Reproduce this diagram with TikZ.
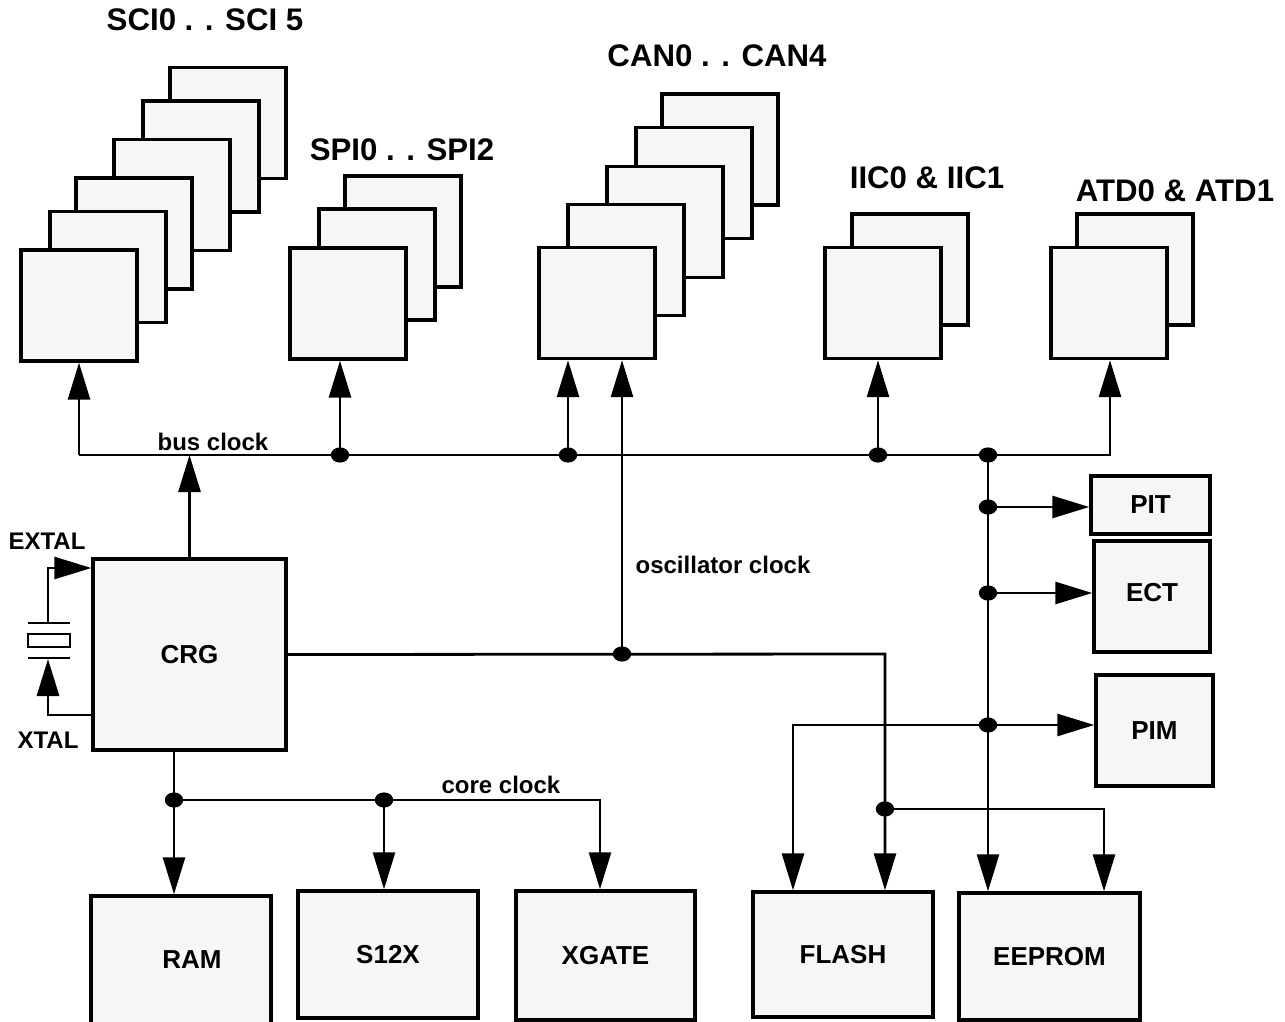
\documentclass[tikz,border=0pt]{standalone}
\usepackage{fontspec}
\setmainfont{Liberation Sans}
\usetikzlibrary{arrows.meta}

\definecolor{boxfill}{HTML}{F6F6F6}
\tikzset{
  box/.style={draw, fill=boxfill, line width=1.7pt, inner sep=0pt,
    font=\fontsize{13}{15}\selectfont\bfseries},
  unit/.style={box, minimum width=58pt, minimum height=55.5pt},
  clk/.style={line width=1.4pt, -{Triangle[length=18.5pt,width=11pt]}},
  wire/.style={line width=1.4pt},
  title/.style={font=\fontsize{15.6}{19}\selectfont\bfseries},
  lbl/.style={font=\fontsize{12}{14}\selectfont\bfseries},
}

\begin{document}
\begin{tikzpicture}[x=0.5pt, y=-0.5pt]
			\useasboundingbox (0,0) rectangle (1285,1022);
			
			% peripheral stacks
			\node[unit] (sci5) at (228,123) {};
			\node[unit] (sci4) at (201,156.5) {};
			\node[unit] (sci3) at (172,195) {};
			\node[unit] (sci2) at (134,233.5) {};
			\node[unit] (sci1) at (108,267) {};
			\node[unit] (sci0) at (79,305.5) {};
			
			\node[unit] (spi2) at (403,231.5) {};
			\node[unit] (spi1) at (377,264.5) {};
			\node[unit] (spi0) at (348,303.5) {};
			
			\node[unit] (can4) at (720,149.5) {};
			\node[unit] (can3) at (694,183) {};
			\node[unit] (can2) at (665,222) {};
			\node[unit] (can1) at (626,260) {};
			\node[unit] (can0) at (597,303) {};
			
			\node[unit] (iic1) at (910,269.5) {};
			\node[unit] (iic0) at (883,303) {};
			
			\node[unit] (atd1) at (1135,269.5) {};
			\node[unit] (atd0) at (1109,303) {};
			
			\node[title] (tsci) at (205,20) {SCI0 . . SCI 5};
			\node[title] (tspi) at (402,150) {SPI0 . . SPI2};
			\node[title] (tcan) at (717,56) {CAN0 . . CAN4};
			\node[title] (tiic) at (927,178) {IIC0 \& IIC1};
			\node[title] (tatd) at (1175,191) {ATD0 \& ATD1};
			
			% clock generator and the rest
			\node[box, minimum width=96.5pt, minimum height=95.5pt] (crg) at (189.5,654.5) {CRG};
			
			\node[box, minimum width=59.5pt, minimum height=29pt] (pit) at (1150.5,505) {PIT};
			\node[box, minimum width=58pt, minimum height=55.5pt] (ect) at (1152,596.5) {\raisebox{4pt}{ECT}};
			\node[box, minimum width=58.5pt, minimum height=55.5pt] (pim) at (1154.5,730.5) {PIM};
			
			\node[box, minimum width=90pt, minimum height=64pt] (ram) at (181,960) {\hspace{11pt}RAM};
			\node[box, minimum width=90pt, minimum height=63.5pt] (s12x) at (388,954.5) {S12X};
			\node[box, minimum width=89.5pt, minimum height=64.5pt] (xgate) at (605.5,955.5) {XGATE};
			\node[box, minimum width=90pt, minimum height=62.5pt] (flash) at (843,954.5) {FLASH};
			\node[box, minimum width=90.5pt, minimum height=63.5pt] (eeprom) at (1049.5,956.5) {EEPROM};
			
			% junctions
			\coordinate (busL) at (79,455);
			\coordinate (busR) at (1110,455);
			\coordinate (jspi) at (340,455);
			\coordinate (jcan) at (568,455);
			\coordinate (jiic) at (878,455);
			\coordinate (jper) at (988,455);
			\coordinate (jpit) at (988,507);
			\coordinate (ject) at (988,593);
			\coordinate (jpim) at (988,725);
			\coordinate (pimL) at (793,725);
			\coordinate (josc) at (622,654);
			\coordinate (oscR) at (885,654);
			\coordinate (jee) at (885,809);
			\coordinate (eeR) at (1104,809);
			\coordinate (jram) at (174,800);
			\coordinate (js12x) at (384,800);
			\coordinate (coreR) at (600,800);
			
			% bus clock
			\draw[clk] (crg.north) -- (crg.north |- busL);
			\draw[clk] (busL) -- (sci0.south);
			\draw[clk] (busL) -- (busR) -- (busR |- atd0.south);
			\draw[clk] (jspi) -- (jspi |- spi0.south);
			\draw[clk] (jcan) -- (jcan |- can0.south);
			\draw[clk] (jiic) -- (jiic |- iic0.south);
			\draw[clk] (jper) -- (jper |- eeprom.north);
			\draw[clk] (jpit) -- (jpit -| pit.west);
			\draw[clk] (ject) -- (ject -| ect.west);
			\draw[clk] (jpim) -- (jpim -| pim.west);
			\draw[clk] (jpim) -- (pimL) -- (pimL |- flash.north);
			
			% oscillator clock
			\draw[clk] (crg.east) -- (oscR) -- (oscR |- flash.north);
			\draw[clk] (josc) -- (josc |- can0.south);
			\draw[clk] (jee) -- (eeR) -- (eeR |- eeprom.north);
			
			% core clock
			\draw[wire] (jram |- crg.south) -- (jram);
			\draw[clk] (jram) -- (jram |- ram.north);
			\draw[clk] (jram) -- (coreR) -- (coreR |- xgate.north);
			\draw[clk] (js12x) -- (js12x |- s12x.north);
			
			\foreach \j in {jspi,jcan,jiic,jper,jpit,ject,jpim,josc,jee,jram,js12x}
				\fill (\j) ellipse [x radius=4.6pt, y radius=3.8pt];
			
			% crystal
			\coordinate (xtop) at (48,623);
			\coordinate (xbot) at (48,659);
			\draw[clk] (xtop) -- (48,568) -- (crg.west |- 0,568);
			\draw[clk] (crg.west |- 0,715) -- (48,715) -- (xbot);
			\draw[line width=1pt] (28,623) -- (70,623);
			\draw[line width=1pt] (28,634) rectangle (70,647);
			\draw[line width=1pt] (28,658) -- (70,658);
			
			\node[lbl] (lbus) at (213,442) {bus clock};
			\node[lbl] (losc) at (723,565) {oscillator clock};
			\node[lbl] (lcore) at (501,785) {core clock};
			\node[lbl] (lextal) at (47,541) {EXTAL};
			\node[lbl] (lxtal) at (48,740) {XTAL};
		\end{tikzpicture}
\end{document}
